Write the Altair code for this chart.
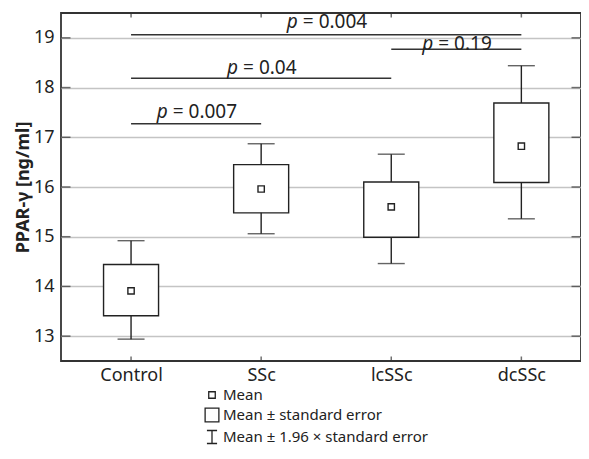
import altair as alt
import pandas as pd

# ---- data ----
groups = ["Control", "SSc", "lcSSc", "dcSSc"]
means = [13.91, 15.96, 15.60, 16.82]
se_low = [13.41, 15.48, 14.99, 16.09]
se_high = [14.44, 16.45, 16.10, 17.69]
ci_low = [12.94, 15.06, 14.46, 15.36]
ci_high = [14.92, 16.87, 16.66, 18.44]

p_values = ["0.007", "0.04", "0.004", "0.19"]
p_from = ["Control", "Control", "Control", "lcSSc"]
p_to = ["SSc", "lcSSc", "dcSSc", "dcSSc"]
p_level = [17.27, 18.19, 19.06, 18.77]
p_text_y = [17.39, 18.28, 19.19, 18.76]

y_ticks = [13, 14, 15, 16, 17, 18, 19]
y_domain = [12.5, 19.5]
x_domain = [-0.5, 3.42]

legend_labels = ["Mean", "Mean ± standard error", "Mean ± 1.96 × standard error"]
legend_shapes = [
    "M-0.45,-0.45H0.45V0.45H-0.45Z",
    "M-0.95,-0.95H0.95V0.95H-0.95Z",
    "M-0.7,-0.9H0.7M0,-0.9V0.9M-0.7,0.9H0.7",
]

FONT = "Noto Sans"
W, H = 520, 348
PX_PER_UNIT = W / (x_domain[1] - x_domain[0])

idx = {g: i for i, g in enumerate(groups)}
df = pd.DataFrame({
    "i": list(range(len(groups))), "group": groups, "mean": means,
    "se_lo": se_low, "se_hi": se_high, "ci_lo": ci_low, "ci_hi": ci_high,
})
pdf = pd.DataFrame({
    "pv": p_values,
    "x1": [idx[g] for g in p_from],
    "x2": [idx[g] for g in p_to],
    "level": p_level,
    "ty": p_text_y,
})
ytick_df = pd.DataFrame([{"x": xe, "y": v} for v in y_ticks for xe in x_domain])
xtick_df = pd.DataFrame([{"x": i, "y": ye} for i in range(len(groups)) for ye in y_domain])
legend_df = pd.DataFrame({"label": legend_labels})

xs = alt.Scale(domain=x_domain, nice=False, zero=False)
ys = alt.Scale(domain=y_domain, nice=False, zero=False)
label_expr = "[" + ",".join("'%s'" % g for g in groups) + "][datum.value]"

xaxis = alt.Axis(values=list(range(len(groups))), labelExpr=label_expr, title=None,
                 grid=False, ticks=False, domain=False, labelFont=FONT,
                 labelFontSize=18, labelColor="#222", labelPadding=5)
yaxis = alt.Axis(values=y_ticks, title="PPAR-γ [ng/ml]", grid=True, gridColor="#c4c4c4",
                 gridWidth=1.6, ticks=False, domain=False, labelFont=FONT,
                 labelFontSize=18, labelColor="#222", labelPadding=7,
                 titleFont=FONT, titleFontSize=18, titleFontWeight="bold",
                 titleColor="#222", titlePadding=1)

base = alt.Chart(df)

stems = base.mark_rule(color="#222", strokeWidth=1.4).encode(
    x=alt.X("i:Q", scale=xs, axis=xaxis),
    y=alt.Y("ci_lo:Q", scale=ys, axis=yaxis),
    y2="ci_hi:Q",
)
caps_lo = base.mark_tick(color="#222", thickness=1.4, size=27, orient="horizontal").encode(
    x=alt.X("i:Q", scale=xs), y=alt.Y("ci_lo:Q", scale=ys))
caps_hi = base.mark_tick(color="#222", thickness=1.4, size=27, orient="horizontal").encode(
    x=alt.X("i:Q", scale=xs), y=alt.Y("ci_hi:Q", scale=ys))
boxes = base.mark_bar(size=55, fill="white", stroke="#222", strokeWidth=1.4).encode(
    x=alt.X("i:Q", scale=xs), y=alt.Y("se_lo:Q", scale=ys), y2="se_hi:Q")
mean_pts = base.mark_point(shape="square", size=40, filled=True, fill="white",
                           stroke="#222", strokeWidth=1.4, opacity=1).encode(
    x=alt.X("i:Q", scale=xs), y=alt.Y("mean:Q", scale=ys))

pbase = alt.Chart(pdf).transform_calculate(
    mid="(datum.x1 + datum.x2) / 2",
    rest="'= ' + datum.pv",
).transform_calculate(
    wrest="19 * (1.1 + 0.572 * (length(datum.pv) - 1))",
).transform_calculate(
    split="datum.mid - (datum.wrest - 11.6) / 2 / %f" % PX_PER_UNIT,
)
p_lines = pbase.mark_rule(color="#333", strokeWidth=1.5).encode(
    x=alt.X("x1:Q", scale=xs), x2="x2:Q", y=alt.Y("level:Q", scale=ys))
p_italic = pbase.mark_text(text="p", font=FONT, fontSize=19, fontStyle="italic",
                           align="right", baseline="alphabetic", dx=-2.5, color="#222").encode(
    x=alt.X("split:Q", scale=xs), y=alt.Y("ty:Q", scale=ys))
p_rest = pbase.mark_text(font=FONT, fontSize=19, align="left", baseline="alphabetic",
                         dx=2.5, color="#222").encode(
    x=alt.X("split:Q", scale=xs), y=alt.Y("ty:Q", scale=ys), text="rest:N")

yt = alt.Chart(ytick_df).mark_tick(color="#333", thickness=1.5, size=9,
                                   orient="horizontal", clip=True).encode(
    x=alt.X("x:Q", scale=xs), y=alt.Y("y:Q", scale=ys))
xt = alt.Chart(xtick_df).mark_tick(color="#333", thickness=1.5, size=9,
                                   orient="vertical", clip=True).encode(
    x=alt.X("x:Q", scale=xs), y=alt.Y("y:Q", scale=ys))

legend_layer = alt.Chart(legend_df).transform_filter("false").mark_point(
    filled=True, fill="white", stroke="#222", strokeWidth=1.3, opacity=1
).encode(
    x=alt.value(0),
    y=alt.value(0),
    shape=alt.Shape("label:N", scale=alt.Scale(domain=legend_labels, range=legend_shapes),
                    legend=alt.Legend(title=None, orient="none", legendX=143, legendY=374,
                                      labelFont=FONT, labelFontSize=15, labelColor="#222",
                                      labelLimit=0, symbolSize=210, rowPadding=2,
                                      labelOffset=3, symbolStrokeWidth=1.3)),
)

chart = alt.layer(
    stems, caps_lo, caps_hi, boxes, mean_pts, p_lines, p_italic, p_rest, yt, xt, legend_layer,
).properties(
    width=W, height=H,
    padding={"left": 53, "top": 5, "right": 0, "bottom": 85},
    autosize=alt.AutoSizeParams(type="none"),
).configure_view(stroke="#333", strokeWidth=1.8)

chart.save("out.html", embed_options={"renderer": "svg", "actions": False})
